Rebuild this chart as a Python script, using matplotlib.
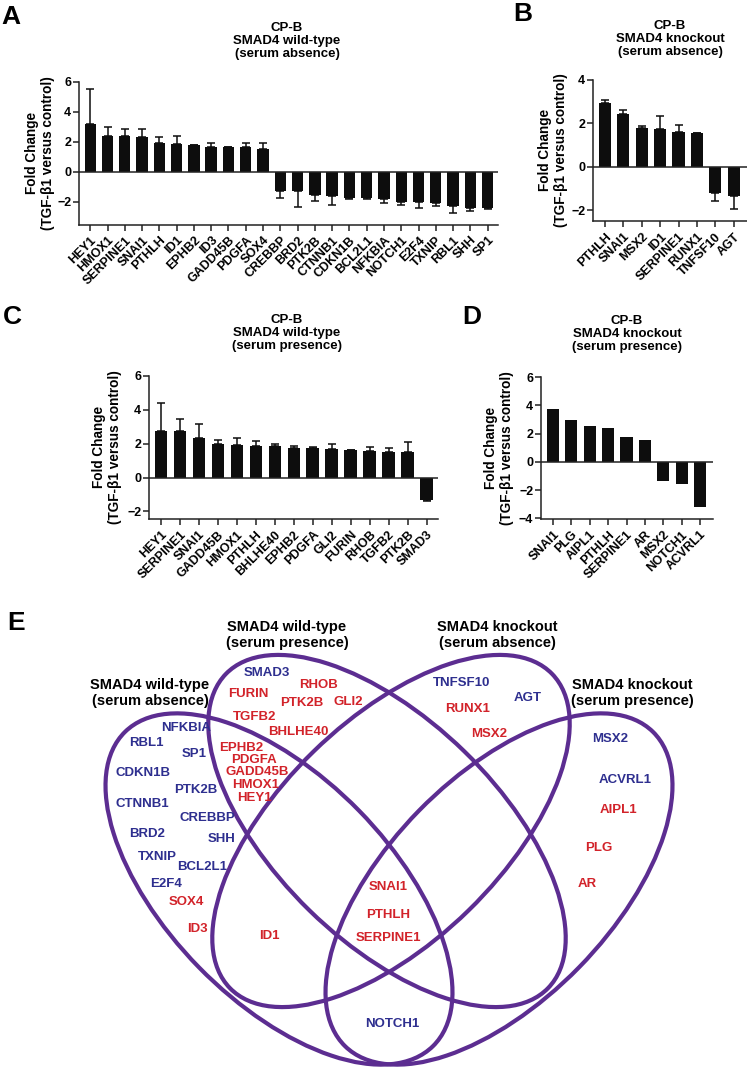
import numpy as np
import matplotlib
matplotlib.use("Agg")
import matplotlib.pyplot as plt
from matplotlib.patches import Ellipse

plt.rcParams['font.family'] = ['Liberation Sans', 'DejaVu Sans']
plt.rcParams['font.weight'] = 'bold'

W, H = 747, 1070

# panel A: CP-B SMAD4 wild-type, serum absence
a_genes = ["HEY1", "HMOX1", "SERPINE1", "SNAI1", "PTHLH", "ID1", "EPHB2", "ID3",
           "GADD45B", "PDGFA", "SOX4", "CREBBP", "BRD2", "PTK2B", "CTNNB1", "CDKN1B",
           "BCL2L1", "NFKBIA", "NOTCH1", "E2F4", "TXNIP", "RBL1", "SHH", "SP1"]
a_fc = [3.22, 2.42, 2.39, 2.36, 1.95, 1.86, 1.77, 1.68, 1.66, 1.64, 1.55, -1.25,
        -1.27, -1.52, -1.61, -1.70, -1.70, -1.82, -2.00, -2.00, -2.05, -2.27, -2.41, -2.38]
a_err = [2.30, 0.60, 0.51, 0.54, 0.41, 0.54, 0.03, 0.27, 0.02, 0.29, 0.38, 0.45,
         1.07, 0.39, 0.62, 0.10, 0.07, 0.25, 0.18, 0.39, 0.20, 0.48, 0.18, 0.08]

# panel B: SMAD4 knockout, serum absence
b_genes = ["PTHLH", "SNAI1", "MSX2", "ID1", "SERPINE1", "RUNX1", "TNFSF10", "AGT"]
b_fc = [2.92, 2.43, 1.77, 1.72, 1.62, 1.54, -1.23, -1.34]
b_err = [0.16, 0.20, 0.12, 0.62, 0.30, 0.03, 0.37, 0.60]

# panel C: SMAD4 wild-type, serum presence
c_genes = ["HEY1", "SERPINE1", "SNAI1", "GADD45B", "HMOX1", "PTHLH", "BHLHE40", "EPHB2",
           "PDGFA", "GLI2", "FURIN", "RHOB", "TGFB2", "PTK2B", "SMAD3"]
c_fc = [2.76, 2.73, 2.33, 1.96, 1.90, 1.86, 1.84, 1.75, 1.73, 1.69, 1.63, 1.57, 1.49, 1.49, -1.35]
c_err = [1.67, 0.74, 0.85, 0.28, 0.41, 0.28, 0.12, 0.11, 0.05, 0.27, 0.02, 0.23, 0.27, 0.63, 0.04]

# panel D: SMAD4 knockout, serum presence (no error bars)
d_genes = ["SNAI1", "PLG", "AIPL1", "PTHLH", "SERPINE1", "AR", "MSX2", "NOTCH1", "ACVRL1"]
d_fc = [3.72, 2.94, 2.52, 2.38, 1.72, 1.55, -1.39, -1.58, -3.20]

# panel E: venn regions
wt_abs_only = ["NFKBIA", "RBL1", "SP1", "CDKN1B", "PTK2B", "CTNNB1", "CREBBP",
               "BRD2", "SHH", "TXNIP", "BCL2L1", "E2F4", "SOX4", "ID3"]
wt_pres_only = ["SMAD3", "FURIN", "RHOB", "PTK2B", "GLI2", "TGFB2", "BHLHE40"]
wt_both = ["EPHB2", "PDGFA", "GADD45B", "HMOX1", "HEY1"]
ko_abs_only = ["TNFSF10", "AGT", "RUNX1", "MSX2"]
ko_pres_only = ["MSX2", "ACVRL1", "AIPL1", "PLG", "AR"]
wt_abs_ko_abs = ["ID1"]
all_four = ["SNAI1", "PTHLH", "SERPINE1"]
wt_abs_ko_pres = ["NOTCH1"]

set_names = ["SMAD4 wild-type\n(serum absence)", "SMAD4 wild-type\n(serum presence)",
             "SMAD4 knockout\n(serum absence)", "SMAD4 knockout\n(serum presence)"]

UP = '#d2232a'
DOWN = '#2e2f8f'
PURPLE = '#5c2d91'
BAR = '#0d0d0d'

fig = plt.figure(figsize=(W / 100, H / 100), dpi=100)
canvas = fig.add_axes([0, 0, 1, 1])
canvas.set_xlim(0, W)
canvas.set_ylim(H, 0)
canvas.axis('off')


def px_axes(left, top, right, bottom):
    return fig.add_axes([left / W, 1 - bottom / H, (right - left) / W, (bottom - top) / H])


def bar_panel(rect, genes, fc, err, xlim, ylim, yticks):
    ax = px_axes(*rect)
    x = np.arange(len(genes))
    fc = np.array(fc)
    ax.bar(x, fc, width=0.66, color=BAR, zorder=2)
    if err is not None:
        err = np.array(err)
        lower = np.where(fc > 0, 0, err)
        upper = np.where(fc > 0, err, 0)
        ax.errorbar(x, fc, yerr=[lower, upper], fmt='none', ecolor=BAR,
                    elinewidth=1.1, capsize=2.6, capthick=1.1, zorder=1)
    ax.axhline(0, color='#222222', lw=1.1, zorder=3)
    ax.set_xlim(xlim)
    ax.set_ylim(ylim)
    ax.set_yticks(yticks)
    ax.set_xticks(x)
    ax.set_xticklabels(genes, rotation=45, ha='right', rotation_mode='anchor',
                       fontsize=9, fontweight='bold')
    for lab in ax.get_yticklabels():
        lab.set_fontsize(9)
        lab.set_fontweight('bold')
    ax.tick_params(axis='both', length=4, width=1.1, color='#222222')
    ax.tick_params(axis='x', pad=3)
    ax.tick_params(axis='y', pad=1.5)
    for s in ['top', 'right']:
        ax.spines[s].set_visible(False)
    for s in ['left', 'bottom']:
        ax.spines[s].set_linewidth(1.1)
        ax.spines[s].set_color('#222222')
    ax.patch.set_alpha(0)
    return ax


bar_panel((79, 82, 498, 224.5), a_genes, a_fc, a_err, (-0.65, 23.6), (-3.5, 6), [-2, 0, 2, 4, 6])
bar_panel((593, 80, 747, 221), b_genes, b_fc, b_err, (-0.65, 7.72), (-2.5, 4), [-2, 0, 2, 4])
bar_panel((149, 376, 438, 519), c_genes, c_fc, c_err, (-0.63, 14.6), (-2.45, 6), [-2, 0, 2, 4, 6])
bar_panel((541, 377, 713, 519), d_genes, d_fc, None, (-0.65, 8.7), (-4.05, 6), [-4, -2, 0, 2, 4, 6])

# titles and y labels
titles = [("CP-B\nSMAD4 wild-type\n(serum absence)", 287, 41),
          ("CP-B\nSMAD4 knockout\n(serum absence)", 670, 39),
          ("CP-B\nSMAD4 wild-type\n(serum presence)", 287, 333),
          ("CP-B\nSMAD4 knockout\n(serum presence)", 627, 334)]
for t, x, y in titles:
    canvas.text(x, y, t, ha='center', va='center', fontsize=9.5, fontweight='bold',
                linespacing=1.15)

ylab = "Fold Change\n(TGF-\u03b21 versus control)"
for x, y in [(40, 153), (553, 150), (107, 447), (499, 448)]:
    canvas.text(x, y, ylab, ha='center', va='center', rotation=90, fontsize=9.8,
                fontweight='bold', linespacing=1.1)

for letter, x, y in [("A", 11, 17), ("B", 523, 14), ("C", 12, 317), ("D", 472, 317), ("E", 16, 623)]:
    canvas.text(x, y, letter, ha='center', va='center', fontsize=19, fontweight='bold')

# venn ellipses (centre, width, height, angle) in pixel space
ellipses = [((279, 889), 440, 224, 45.6),
            ((387, 831), 450, 222, 44.3),
            ((391, 831), 450, 222, -44.3),
            ((499, 889), 440, 224, -45.6)]
for (cx, cy), w, h, ang in ellipses:
    canvas.add_patch(Ellipse((cx, cy), w, h, angle=ang, fill=False,
                             edgecolor=PURPLE, lw=3.0))

for name, (x, y) in zip(set_names, [(150, 693), (287, 635), (497, 635), (632, 693)]):
    canvas.text(x, y, name, ha='center', va='center', fontsize=10.5, fontweight='bold',
                linespacing=1.15)

fc_lookup = {"A": dict(zip(a_genes, a_fc)), "B": dict(zip(b_genes, b_fc)),
             "C": dict(zip(c_genes, c_fc)), "D": dict(zip(d_genes, d_fc))}

regions = [
    (wt_abs_only, "A", [(186, 728), (146, 743), (194, 754), (143, 773), (196, 790), (142, 804),
                         (207, 818), (147, 834), (222, 839), (157, 857), (202, 867), (166, 884),
                         (186, 902), (197, 929)]),
    (wt_pres_only, "C", [(267, 673), (248, 694), (318, 685), (302, 703), (348, 702),
                          (255, 717), (298, 732)]),
    (wt_both, "A", [(241, 748), (254, 760), (257, 772), (256, 785), (254, 798)]),
    (ko_abs_only, "B", [(462, 683), (528, 698), (468, 709), (489, 734)]),
    (ko_pres_only, "D", [(610, 739), (625, 780), (618, 810), (599, 848), (587, 884)]),
    (wt_abs_ko_abs, "A", [(269, 936)]),
    (all_four, "A", [(388, 887), (388, 915), (388, 938)]),
    (wt_abs_ko_pres, "A", [(392, 1024)]),
]
for genes, src, pos in regions:
    for g, (x, y) in zip(genes, pos):
        col = UP if fc_lookup[src][g] > 0 else DOWN
        canvas.text(x, y, g, ha='center', va='center', fontsize=9.5, fontweight='bold',
                    color=col)

fig.savefig("out.png", dpi=100)
